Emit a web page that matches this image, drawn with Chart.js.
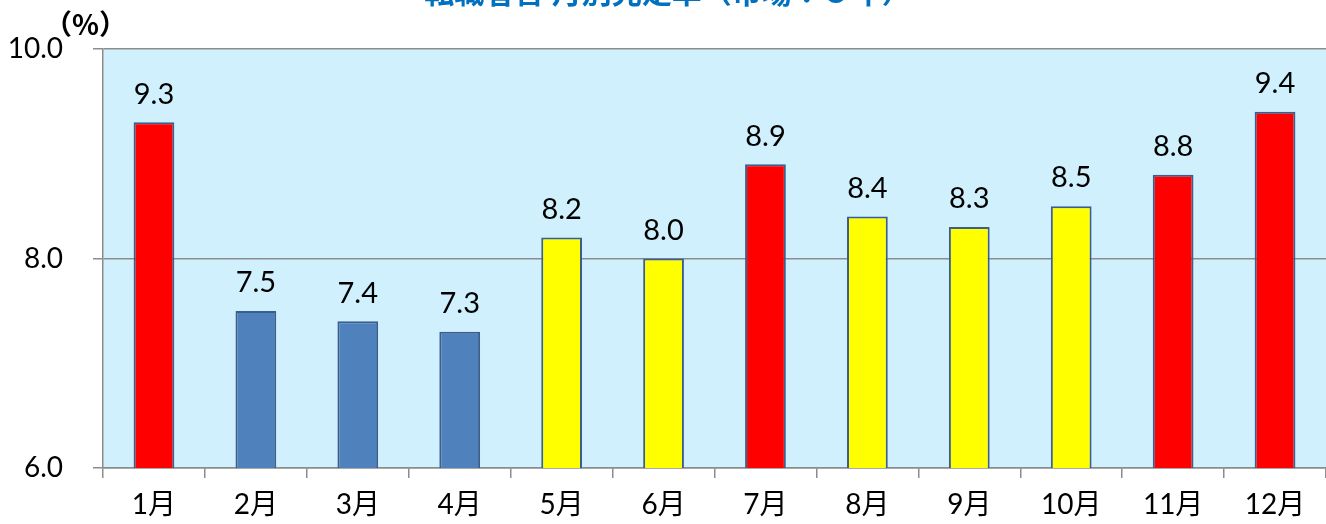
<!DOCTYPE html>
<html>
<head>
<meta charset="utf-8">
<script src="https://cdn.jsdelivr.net/npm/chart.js@4/dist/chart.umd.min.js"></script>
<style>
html,body{margin:0;padding:0;background:#fff;}
#wrap{width:1326px;height:524px;overflow:hidden;position:relative;}
#c{position:absolute;left:0;top:-36px;}
</style>
</head>
<body>
<div id="wrap"><canvas id="c" width="1326" height="560"></canvas></div>
<script>
const categories = ['1月','2月','3月','4月','5月','6月','7月','8月','9月','10月','11月','12月'];
const values = [9.3, 7.5, 7.4, 7.3, 8.2, 8.0, 8.9, 8.4, 8.3, 8.5, 8.8, 9.4];
const colorGroups = ['red','blue','blue','blue','yellow','yellow','red','yellow','yellow','yellow','red','red'];
const yTicks = [6, 8, 10];
const titleText = '転職者含 月別充足率（市場：５年）';
const unitText = '（%）';

const palette = {red:'#FF0000', blue:'#4F81BD', yellow:'#FFFF00'};
const FONT = "Lato, 'Noto Sans CJK JP', sans-serif";

const bgPlugin = {
  id:'bg',
  beforeDraw(chart){
    const {ctx, chartArea:a} = chart;
    ctx.save();
    ctx.fillStyle = '#CFF0FC';
    ctx.fillRect(a.left, a.top, a.right-a.left, a.bottom-a.top);
    ctx.restore();
  }
};
const labelPlugin = {
  id:'labels',
  afterDatasetsDraw(chart){
    const {ctx} = chart;
    const meta = chart.getDatasetMeta(0);
    ctx.save();
    ctx.fillStyle = '#000';
    ctx.font = '29px ' + FONT;
    ctx.textAlign = 'center';
    ctx.textBaseline = 'middle';
    meta.data.forEach((bar,i)=>{
      ctx.fillText(values[i].toFixed(1), bar.x, bar.y - 28);
    });
    ctx.font = "bold 28px 'Noto Sans CJK JP', sans-serif";
    ctx.textAlign = 'left';
    ctx.fillText(unitText, 44, 60);
    ctx.restore();
  }
};

new Chart(document.getElementById('c'), {
  type:'bar',
  data:{
    labels:categories,
    datasets:[{
      data:values,
      backgroundColor:colorGroups.map(g=>palette[g]),
      borderColor:'#3B5E8C',
      borderWidth:2,
      borderSkipped:'bottom',
      barPercentage:0.4,
      categoryPercentage:1.0
    }]
  },
  options:{
    responsive:false,
    animation:false,
    layout:{padding:{left:10,right:0,top:0,bottom:0}},
    plugins:{
      legend:{display:false},
      tooltip:{enabled:false},
      title:{
        display:true,
        text:titleText,
        color:'#0070C0',
        font:{family:FONT, size:30, weight:'bold'},
        padding:{top:11, bottom:38}
      }
    },
    scales:{
      y:{
        min:6, max:10,
        afterBuildTicks(scale){ scale.ticks = yTicks.map(v=>({value:v})); },
        afterFit(scale){ scale.width = 93; },
        ticks:{
          color:'#000',
          font:{family:FONT, size:28},
          padding:30,
          callback:v=>v.toFixed(1)
        },
        grid:{color:'#8C8C8C', lineWidth:1.5, tickLength:10, drawTicks:true},
        border:{display:true, color:'#8C8C8C', width:1.5}
      },
      x:{
        offset:true,
        afterFit(scale){ scale.height = 56; },
        ticks:{color:'#000', font:{family:FONT, size:28}, padding:10},
        grid:{display:true, drawOnChartArea:false, drawTicks:true, tickLength:10, color:'#8C8C8C', lineWidth:1.5, offset:true},
        border:{display:true, color:'#8C8C8C', width:1.5}
      }
    }
  },
  plugins:[bgPlugin, labelPlugin]
});
</script>
</body>
</html>
